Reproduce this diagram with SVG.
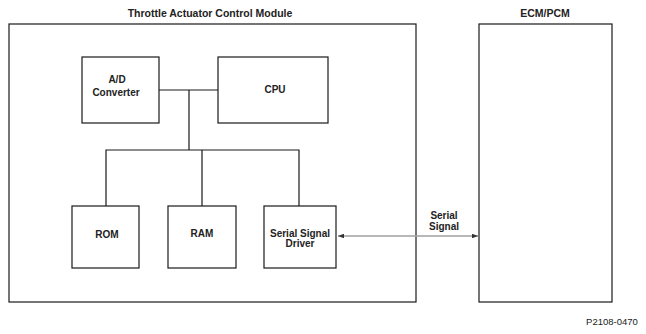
<svg xmlns="http://www.w3.org/2000/svg" width="646" height="334" viewBox="0 0 646 334">
<style>
.box{fill:none;stroke:#1a1a1a;stroke-width:1.2}
.bus{fill:none;stroke:#1a1a1a;stroke-width:1.2}
.sig{fill:none;stroke:#a0a0a0;stroke-width:1.5}
text{font-family:"Liberation Sans",Arial,sans-serif;font-size:10px;font-weight:bold;fill:#222;text-anchor:middle}
.title{font-size:10.5px}
</style>
<defs>
<marker id="ah" viewBox="0 0 8 6" refX="8" refY="3" markerWidth="6" markerHeight="4.5" orient="auto-start-reverse" markerUnits="userSpaceOnUse">
<path d="M0,0 L8,3 L0,6 Z" fill="#333"/>
</marker>
</defs>
<rect width="646" height="334" fill="#fff"/>
<g id="tacm">
<rect class="box" x="9" y="24" width="407" height="278"/>
<text class="title" x="210" y="17">Throttle Actuator Control Module</text>
</g>
<g id="ecm">
<rect class="box" x="479" y="24" width="133" height="278"/>
<text class="title" x="545" y="17">ECM/PCM</text>
</g>
<g id="adc">
<rect class="box" x="82" y="57" width="77" height="66"/>
<text x="117" y="83">A/D</text>
<text x="116" y="96">Converter</text>
</g>
<g id="cpu">
<rect class="box" x="218" y="57" width="110" height="66"/>
<text x="275" y="93">CPU</text>
</g>
<g id="rom">
<rect class="box" x="72" y="206" width="67" height="62"/>
<text x="107" y="238">ROM</text>
</g>
<g id="ram">
<rect class="box" x="168" y="206" width="68" height="62"/>
<text x="202" y="237">RAM</text>
</g>
<g id="ssd">
<rect class="box" x="264" y="206" width="72" height="62"/>
<text x="300" y="237">Serial Signal</text>
<text x="300" y="247">Driver</text>
</g>
<g id="connectors">
<path class="bus" d="M159,90 H218 M189,90 V150 M106,206 V150 H299 V206 M202,150 V206"/>
<line class="sig" x1="338" y1="236" x2="478" y2="236" marker-start="url(#ah)" marker-end="url(#ah)"/>
<text x="444" y="219">Serial</text>
<text x="444" y="230">Signal</text>
</g>
<text x="612" y="325" style="font-weight:normal;font-size:9.5px">P2108-0470</text>
</svg>
